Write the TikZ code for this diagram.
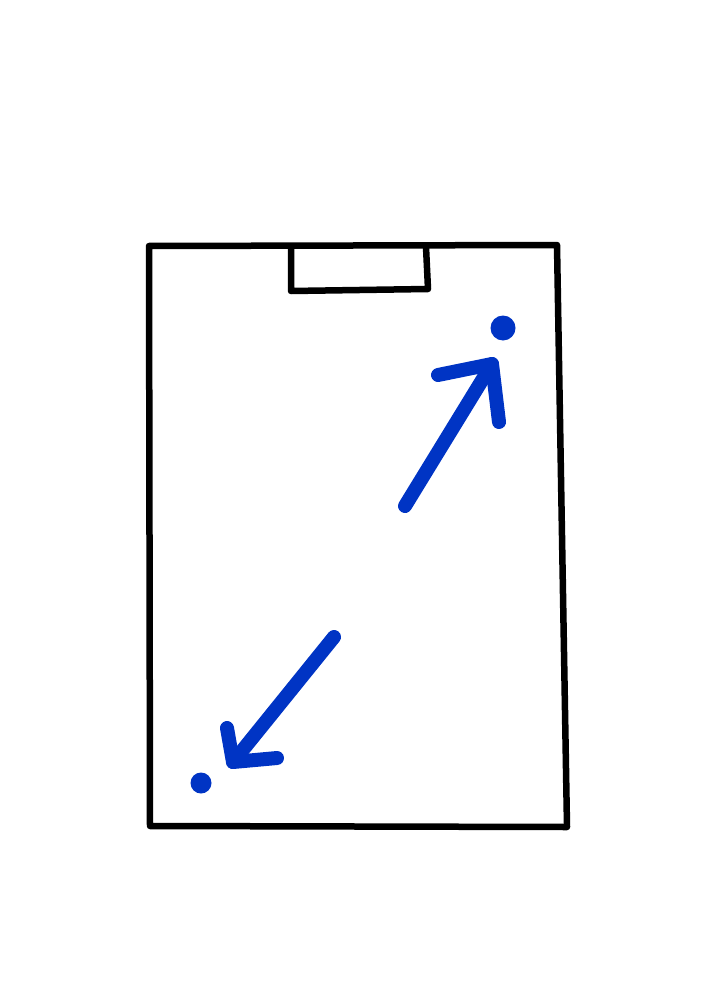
\documentclass[tikz,border=0pt]{standalone}
\definecolor{penblue}{RGB}{0,52,196}
\tikzset{
  outline/.style={draw=black,line width=6.5pt,line cap=round,line join=round},
  bluestroke/.style={draw=penblue,line width=14pt,line cap=round,line join=round},
  bluedot/.style={fill=penblue}
}
\begin{document}
\begin{tikzpicture}[x=1pt,y=-1pt]
\useasboundingbox (0,0) rectangle (720,1000);
% clipboard outline
\coordinate (tl) at (149,246);
\coordinate (tr) at (557,245);
\coordinate (br) at (567,827);
\coordinate (bl) at (150,826);
\draw[outline] (tl) -- (tr) -- (br) -- (bl) -- cycle;
% clip tab
\coordinate (t1) at (291,247);
\coordinate (t2) at (291,291);
\coordinate (t3) at (428,289);
\coordinate (t4) at (426,247);
\draw[outline] (t1) -- (t2) -- (t3) -- (t4);
% upper arrow
\coordinate (a0) at (405,506);
\coordinate (a1) at (492,364);
\coordinate (ah1) at (438,375);
\coordinate (ah2) at (499,422);
\draw[bluestroke] (a0) -- (a1);
\draw[bluestroke] (ah1) -- (a1) -- (ah2);
\fill[bluedot] (503,328) circle (12.5);
% lower arrow
\coordinate (b0) at (334,637);
\coordinate (b1) at (233,762);
\coordinate (bh1) at (227,728);
\coordinate (bh2) at (277,758);
\draw[bluestroke] (b0) -- (b1);
\draw[bluestroke] (bh1) -- (b1) -- (bh2);
\fill[bluedot] (201,783) circle (10.5);
\end{tikzpicture}
\end{document}
